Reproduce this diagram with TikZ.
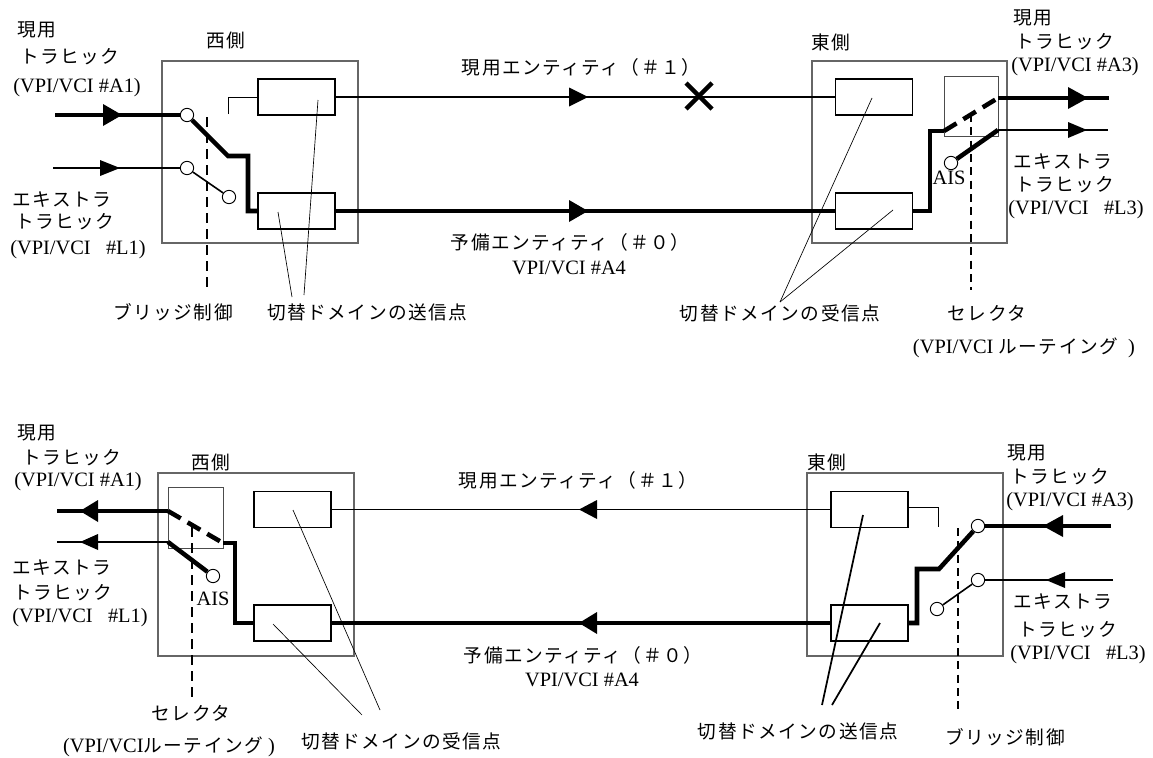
\documentclass[tikz,border=0pt]{standalone}
\usepackage{fontspec}
\setmainfont{Liberation Serif}
\newfontfamily\jp[LetterSpace=8]{Noto Sans CJK JP}
\newcommand\jpsz{\jp\fontsize{14pt}{16pt}\selectfont}
\newcommand\ltsz{\fontsize{15.3pt}{18pt}\selectfont}
\tikzset{
 outerbox/.style={draw=black!60, line width=0.8pt},
 rectn/.style={draw, line width=0.9pt, minimum width=57.75pt, minimum height=27pt, inner sep=0pt},
 sw/.style={circle, draw, fill=white, line width=0.7pt, minimum size=10pt, inner sep=0pt},
 thk/.style={line width=3.4pt},
 thn/.style={line width=1.2pt},
 lead/.style={line width=0.5pt},
 leadb/.style={line width=1.3pt},
 brk/.style={line width=0.7pt},
 jt/.style={font=\jpsz, inner sep=0pt},
 lt/.style={font=\ltsz, inner sep=0pt},
 selbox/.style={draw=black!70, line width=0.7pt},
 dashthick/.style={line width=1.6pt, dash pattern=on 7.5pt off 4.5pt},
 dashthin/.style={line width=0.8pt, dash pattern=on 6pt off 4pt},
 dashsw/.style={line width=3.4pt, dash pattern=on 11pt off 6pt},
 tri/.style={fill=black},
}
\begin{document}
\begin{tikzpicture}[x=0.75pt,y=-0.75pt]
\useasboundingbox (0,0) rectangle (1153,757);

% ================= TOP DIAGRAM =================
\draw[outerbox] (162,61) rectangle (358,243);
\draw[outerbox] (812,61) rectangle (1007,243);
\node[rectn] (w1a) at (296.5,97) {};
\node[rectn] (w1b) at (296.5,211) {};
\node[rectn] (e1a) at (874,97) {};
\node[rectn] (e1b) at (874,211) {};
\draw[selbox] (944,76) rectangle (998,136);

\node[sw] (c1) at (187,115) {};
\node[sw] (c2) at (187,168) {};
\node[sw] (c3) at (229,197) {};
\node[sw] (c4) at (951,163) {};

\coordinate (in1) at (55,115);
\coordinate (in2) at (53,168);
\coordinate (o1) at (1109,98);
\coordinate (o2) at (1108,130);

% west inputs
\draw[thk] (in1) -- (c1);
\fill[tri] (103,104) -- (122,115) -- (103,126) -- cycle;
\draw[thn] (in2) -- (c2);
\fill[tri] (100,160) -- (120,168) -- (100,176) -- cycle;
\draw[thk] (c1) -- (228,156) -- (248,156) -- (248,211) -- (w1b.west);
\draw[thn] (c2) -- (c3);
\draw[brk] (228,114) -- (228,97) -- (w1a.west);
\draw[dashthick] (207,117) -- (207,290);

% entities
\draw[thn] (w1a.east) -- (e1a.west);
\fill[tri] (569,87.5) -- (588,97) -- (569,106.5) -- cycle;
\draw[line width=3.2pt] (686,83) -- (712,109) (686,109) -- (712,83);
\draw[thk] (w1b.east) -- (e1b.west);
\fill[tri] (569,200) -- (588,211) -- (569,222) -- cycle;

% east selector
\draw[thk] (e1b.east) -- (930,211) -- (930,131) -- (944,131);
\draw[dashsw] (944,131) -- (998,98);
\draw[thk] (998,98) -- (o1);
\fill[tri] (1068,87) -- (1088,98) -- (1068,109) -- cycle;
\draw[thn] (998,130) -- (o2);
\fill[tri] (1068,122) -- (1087,130) -- (1068,138) -- cycle;
\draw[thk] (c4) -- (998,130);
\node[lt] (ais1) at (949,178) {AIS};
\draw[dashthin] (971,114) -- (971,290);

% leaders
\draw[lead] (292,297) -- (278,212);
\draw[lead] (304,295) -- (318,100);
\draw[lead] (780,302) -- (872,98);
\draw[lead] (780,302) -- (893,210);

% labels top
\node[jt, anchor=west] (t1) at (17,30) {現用};
\node[jt, anchor=west] (t2) at (20,57) {トラヒック};
\node[lt, anchor=west] (t3) at (13,88) {(VPI/VCI \#A1)};
\node[jt] (t4) at (226,40) {西側};
\node[jt, anchor=west] (t5) at (12,200) {エキストラ};
\node[jt, anchor=west] (t6) at (15,222) {トラヒック};
\node[lt, anchor=west] (t7) at (10,250) {(VPI/VCI\ \ \ \#L1)};
\node[jt] (t8) at (173,312) {ブリッジ制御};
\node[jt, anchor=west] (t9) at (267,312) {切替ドメインの送信点};
\node[jt] (t10) at (581,67) {現用エンティティ（＃１）};
\node[jt] (t11) at (570,242) {予備エンティティ（＃０）};
\node[lt] (t12) at (569,268) {VPI/VCI \#A4};
\node[jt] (t13) at (831,42) {東側};
\node[jt, anchor=west] (t14) at (1013,18) {現用};
\node[jt, anchor=west] (t15) at (1015,42) {トラヒック};
\node[lt, anchor=west] (t16) at (1011,67) {(VPI/VCI \#A3)};
\node[jt, anchor=west] (t17) at (1013,162) {エキストラ};
\node[jt, anchor=west] (t18) at (1015,185) {トラヒック};
\node[lt, anchor=west] (t19) at (1008,210) {(VPI/VCI\ \ \ \#L3)};
\node[jt] (t20) at (780,313) {切替ドメインの受信点};
\node[jt] (t21) at (987,313) {セレクタ};
\node[lt] (t22) at (1024,348) {(VPI/VCI {\jpsz ルーテイング}\ \ )};

% ================= BOTTOM DIAGRAM =================
\draw[outerbox] (158,473) rectangle (354,656);
\draw[outerbox] (807,473) rectangle (1003,656);
\draw[selbox] (168,487) rectangle (223,548);
\node[rectn] (w2a) at (292.5,509.5) {};
\node[rectn] (w2b) at (292.5,623) {};
\node[rectn] (e2a) at (869.5,509.5) {};
\node[rectn] (e2b) at (869.5,623) {};

\node[sw] (c5) at (213,576) {};
\node[sw] (c6) at (978,526) {};
\node[sw] (c7) at (978,580) {};
\node[sw] (c8) at (937,609) {};

\coordinate (o3) at (57,511);
\coordinate (o4) at (57,542);
\coordinate (in3) at (1111,526);
\coordinate (in4) at (1113,580);

% west selector
\draw[thk] (168,511) -- (o3);
\fill[tri] (80,511) -- (98,500) -- (98,522) -- cycle;
\draw[dashsw] (168,511) -- (223,543);
\draw[thk] (223,543) -- (235,543) -- (235,623) -- (w2b.west);
\draw[thn] (168,542) -- (o4);
\fill[tri] (80,542) -- (98,534) -- (98,550) -- cycle;
\draw[thk] (168,542) -- (c5);
\node[lt] (ais2) at (213,599) {AIS};
\draw[dashthick] (192,527) -- (192,703);

% entities
\draw[thn] (e2a.west) -- (w2a.east);
\fill[tri] (579,509.5) -- (597,500) -- (597,519) -- cycle;
\draw[thk] (e2b.west) -- (w2b.east);
\fill[tri] (579,623) -- (597,612) -- (597,634) -- cycle;

% east bridge
\draw[brk] (e2a.east) ++(0,-2) -- (938,507.5) -- (938,527);
\draw[thk] (in3) -- (c6);
\fill[tri] (1043,526) -- (1063,515) -- (1063,537) -- cycle;
\draw[thk] (c6) -- (939,569) -- (917,569) -- (917,623) -- (e2b.east);
\draw[thn] (in4) -- (c7);
\fill[tri] (1046,580) -- (1065,572) -- (1065,588) -- cycle;
\draw[thn] (c7) -- (c8);
\draw[dashthin] (958,528) -- (958,712);

% leaders
\draw[lead] (362,715) -- (273,624);
\draw[lead] (380,710) -- (293,510);
\draw[leadb] (822,705) -- (863,515);
\draw[leadb] (832,705) -- (880,623);

% labels bottom
\node[jt, anchor=west] (b1) at (17,433) {現用};
\node[jt, anchor=west] (b2) at (22,458) {トラヒック};
\node[lt, anchor=west] (b3) at (14,482) {(VPI/VCI \#A1)};
\node[jt] (b4) at (211,462) {西側};
\node[jt, anchor=west] (b5) at (12,568) {エキストラ};
\node[jt, anchor=west] (b6) at (13,593) {トラヒック};
\node[lt, anchor=west] (b7) at (12,618) {(VPI/VCI\ \ \ \#L1)};
\node[jt] (b8) at (191,713) {セレクタ};
\node[lt] (b9) at (169,747) {(VPI/VCI{\jpsz ルーテイング}\ )};
\node[jt, anchor=west] (b10) at (301,741) {切替ドメインの受信点};
\node[jt] (b11) at (578,480) {現用エンティティ（＃１）};
\node[jt] (b12) at (583,655) {予備エンティティ（＃０）};
\node[lt] (b13) at (582,680) {VPI/VCI \#A4};
\node[jt] (b14) at (827,462) {東側};
\node[jt, anchor=west] (b15) at (1007,453) {現用};
\node[jt, anchor=west] (b16) at (1010,477) {トラヒック};
\node[lt, anchor=west] (b17) at (1006,502) {(VPI/VCI \#A3)};
\node[jt, anchor=west] (b18) at (1013,602) {エキストラ};
\node[jt, anchor=west] (b19) at (1018,630) {トラヒック};
\node[lt, anchor=west] (b20) at (1010,655) {(VPI/VCI\ \ \ \#L3)};
\node[jt] (b21) at (1005,737) {ブリッジ制御};
\node[jt] (b22) at (798,731) {切替ドメインの送信点};
\end{tikzpicture}
\end{document}
